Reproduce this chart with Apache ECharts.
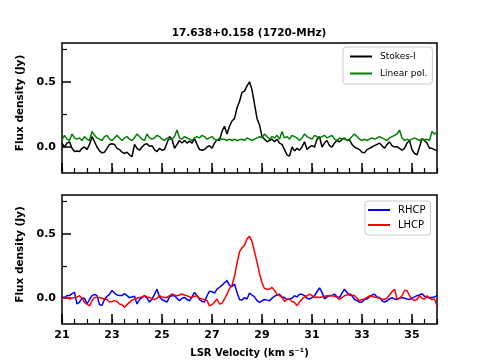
<!DOCTYPE html>
<html><head><meta charset="utf-8">
<script src="https://cdn.jsdelivr.net/npm/echarts@6/dist/echarts.min.js"></script>
<style>html,body{margin:0;padding:0;background:#fff}#c{width:484px;height:363px}</style>
</head><body><div id="c"></div>
<script>
// Channel grid (km/s)
const vStart = 21.0, vStep = 0.1, nChan = 151;
const titleText = '17.638+0.158 (1720-MHz)';
const xTickLabels = [21, 23, 25, 27, 29, 31, 33, 35];
const yTickLabels = [0.0, 0.5];
const yMinorTicks = [0.25, 0.75];

const stokesI = [
 0.028,0.0,0.03,0.04,-0.01,-0.035,-0.03,-0.035,-0.01,0.0,
 -0.02,0.02,0.08,0.04,0.0,-0.03,-0.045,-0.04,-0.01,0.02,
 0.025,0.02,-0.01,-0.02,-0.04,-0.05,-0.04,-0.06,-0.075,0.02,
 -0.01,-0.025,0.0,0.02,0.025,0.005,0.01,-0.02,-0.035,-0.01,
 -0.025,-0.02,0.03,0.08,0.06,-0.01,0.02,0.05,0.03,0.05,
 0.03,0.045,0.03,0.065,0.02,-0.02,-0.025,-0.02,0.0,0.01,
 -0.01,0.03,0.055,0.05,0.12,0.16,0.1,0.16,0.2,0.22,
 0.3,0.35,0.42,0.43,0.47,0.5,0.44,0.33,0.22,0.17,
 0.08,0.06,0.04,0.05,0.06,0.04,0.06,0.03,0.02,-0.02,
 -0.06,-0.07,0.0,-0.03,-0.01,-0.025,0.0,0.04,-0.02,0.0,
 0.01,0.0,0.06,0.08,0.0,0.03,0.05,0.01,0.0,0.03,
 0.05,0.04,0.06,0.065,0.05,0.055,0.02,0.0,-0.01,-0.02,
 -0.04,-0.045,-0.02,-0.01,0.0,0.01,0.02,0.03,0.01,-0.01,
 0.02,0.04,0.01,0.0,0.003,-0.01,-0.025,-0.01,0.03,0.05,
 -0.02,-0.05,-0.06,0.0,0.065,0.05,0.03,-0.01,-0.01,-0.02,
 -0.03];
const linearPol = [
 0.054,0.09,0.06,0.05,0.1,0.07,0.06,0.07,0.05,0.08,
 0.06,0.05,0.12,0.09,0.07,0.06,0.05,0.08,0.09,0.06,
 0.05,0.07,0.09,0.07,0.05,0.07,0.08,0.06,0.05,0.07,
 0.1,0.08,0.06,0.05,0.1,0.07,0.06,0.07,0.09,0.08,
 0.06,0.05,0.07,0.06,0.06,0.08,0.13,0.07,0.06,0.08,
 0.07,0.06,0.05,0.07,0.08,0.07,0.09,0.08,0.06,0.07,
 0.08,0.06,0.05,0.07,0.06,0.06,0.05,0.06,0.05,0.06,
 0.05,0.055,0.06,0.05,0.07,0.06,0.05,0.06,0.07,0.08,
 0.07,0.1,0.08,0.06,0.08,0.07,0.09,0.06,0.12,0.07,
 0.08,0.06,0.09,0.08,0.07,0.05,0.07,0.1,0.08,0.07,
 0.06,0.09,0.08,0.07,0.08,0.09,0.07,0.08,0.09,0.06,
 0.05,0.07,0.06,0.07,0.05,0.06,0.08,0.1,0.08,0.06,
 0.05,0.06,0.05,0.06,0.07,0.06,0.07,0.08,0.07,0.06,
 0.05,0.07,0.08,0.09,0.1,0.13,0.07,0.05,0.06,0.05,
 0.06,0.07,0.06,0.05,0.06,0.055,0.06,0.05,0.12,0.1,
 0.11];
const rhcp = [
 0.01,0.006,0.02,0.02,0.035,0.045,-0.045,-0.03,0.0,0.0,
 -0.045,-0.01,0.02,0.03,0.02,-0.05,-0.055,-0.01,0.015,0.03,
 0.06,0.04,0.025,0.02,0.02,0.035,0.02,0.005,0.01,0.015,
 -0.045,-0.01,0.005,0.02,0.0,-0.03,-0.006,0.03,0.07,0.01,
 -0.01,-0.02,-0.03,0.01,0.02,0.019,0.0,-0.02,0.0,0.006,
 -0.01,-0.02,0.01,0.045,0.02,-0.01,-0.025,-0.03,0.019,0.055,
 0.05,0.04,0.07,0.085,0.1,0.12,0.136,0.1,0.09,0.11,
 0.045,-0.01,-0.015,0.005,-0.006,0.04,0.025,0.01,-0.019,-0.032,
 -0.02,-0.01,-0.015,-0.019,0.0,0.015,0.025,0.03,0.01,0.005,
 -0.01,-0.006,0.0,0.019,0.01,0.03,0.03,0.02,0.0,-0.006,
 0.005,0.019,0.05,0.08,0.045,-0.005,0.01,0.019,0.02,0.032,
 0.01,0.006,0.04,0.07,0.045,0.025,0.019,-0.01,-0.019,-0.032,
 -0.03,-0.01,-0.006,0.01,0.025,0.03,0.01,0.006,-0.02,-0.03,
 -0.02,-0.006,0.005,-0.006,-0.01,0.0,0.006,0.0,-0.006,-0.01,
 0.0,0.01,0.02,0.025,0.035,0.015,0.006,0.005,0.006,0.01,
 0.02];
const lhcp = [
 -0.006,0.006,0.006,-0.006,0.0,0.006,0.01,0.019,0.0,-0.032,
 -0.045,-0.06,-0.02,0.006,0.006,0.006,0.0,-0.006,-0.01,-0.03,
 -0.025,-0.019,-0.025,-0.045,-0.05,-0.07,-0.05,-0.032,-0.015,-0.006,
 0.0,0.006,0.01,0.019,0.01,0.006,-0.006,-0.01,0.0,0.019,
 0.01,0.006,0.006,0.02,0.032,0.025,0.019,0.025,0.032,0.025,
 0.019,0.01,0.006,0.015,0.019,0.0,-0.006,-0.01,-0.019,-0.06,
 -0.05,-0.03,-0.006,-0.045,-0.04,-0.006,0.032,0.075,0.1,0.17,
 0.27,0.36,0.39,0.41,0.46,0.48,0.44,0.36,0.28,0.19,
 0.12,0.075,0.072,0.07,0.084,0.06,0.032,0.02,0.006,-0.025,
 -0.01,-0.006,-0.025,-0.032,-0.058,-0.03,-0.006,0.01,0.019,0.032,
 0.02,0.006,0.01,0.006,0.01,0.015,0.019,0.02,0.019,0.015,
 0.006,-0.01,0.006,0.019,0.025,0.032,0.025,0.019,0.0,-0.019,
 -0.01,-0.006,0.006,0.019,0.015,0.01,0.006,0.0,-0.006,-0.01,
 0.0,0.025,0.05,0.07,-0.006,0.0,0.019,0.06,0.06,0.019,
 -0.006,-0.019,-0.01,0.019,0.0,-0.006,0.019,0.0,-0.01,-0.006,
 -0.058];

const velocity = [];
for (let i = 0; i < nChan; i++) velocity.push(+(vStart + i * vStep).toFixed(1));
const xMinorTicks = [];
for (let v = 21; v <= 36.001; v += 0.5) xMinorTicks.push(+v.toFixed(1));

const pairs = a => a.map((y, i) => [velocity[i], y]);
const FONT = 'DejaVu Sans';
const X0 = 21, X1 = 36, Y0 = -0.2, Y1 = 0.8;

function xAxesFor(gi, withLabels) {
  return [
    {type:'value', gridIndex:gi, min:X0, max:X1, position:'bottom',
     axisLine:{show:false, onZero:false}, splitLine:{show:false},
     axisTick:{show:true, inside:true, length:10, customValues:xTickLabels, lineStyle:{color:'#000', width:1.5}},
     axisLabel:{show:withLabels, customValues:xTickLabels, margin:6, color:'#000',
                fontFamily:FONT, fontWeight:'bold', fontSize:11, formatter: v => String(v)},
     name: withLabels ? 'LSR Velocity (km s\u207B\u00B9)' : '',
     nameLocation:'middle', nameGap:24,
     nameTextStyle:{fontFamily:FONT, fontWeight:'bold', fontSize:10, color:'#000'}},
    {type:'value', gridIndex:gi, min:X0, max:X1, position:'bottom',
     axisLine:{show:false, onZero:false}, splitLine:{show:false},
     axisTick:{show:true, inside:true, length:5, customValues:xMinorTicks, lineStyle:{color:'#000', width:1.2}},
     axisLabel:{show:false}}
  ];
}
function yAxesFor(gi) {
  return [
    {type:'value', gridIndex:gi, min:Y0, max:Y1, position:'left',
     axisLine:{show:false, onZero:false}, splitLine:{show:false},
     axisTick:{show:true, inside:true, length:9, customValues:yTickLabels, lineStyle:{color:'#000', width:1.5}},
     axisLabel:{show:true, customValues:yTickLabels, margin:6, color:'#000',
                fontFamily:FONT, fontWeight:'bold', fontSize:11, formatter: v => v.toFixed(1)},
     name:'Flux density (Jy)', nameLocation:'middle', nameGap:33,
     nameTextStyle:{fontFamily:FONT, fontWeight:'bold', fontSize:10.5, color:'#000', padding:[0,0,0,10]}},
    {type:'value', gridIndex:gi, min:Y0, max:Y1, position:'left',
     axisLine:{show:false, onZero:false}, splitLine:{show:false},
     axisTick:{show:true, inside:true, length:5, customValues:yMinorTicks, lineStyle:{color:'#000', width:1.2}},
     axisLabel:{show:false}}
  ];
}
function lineSeries(name, data, color, xi, yi) {
  return {type:'line', name, data:pairs(data), xAxisIndex:xi, yAxisIndex:yi,
          symbol:'none', showSymbol:false, clip:true,
          lineStyle:{color, width:1.5}, itemStyle:{color}, animation:false, z:2};
}
const legendBase = {
  orient:'vertical', icon:'rect', itemWidth:22, itemHeight:2, borderColor:'#cccccc', borderWidth:1,
  borderRadius:3, backgroundColor:'rgba(255,255,255,0.85)', selectedMode:false
};

const chart = echarts.init(document.getElementById('c'), null, {renderer:'canvas'});
chart.setOption({
  animation:false,
  backgroundColor:'#fff',
  grid:[
    {left:62, top:43, width:375, height:130, show:true, borderColor:'#000', borderWidth:1.5, backgroundColor:'transparent'},
    {left:62, top:195, width:375, height:129, show:true, borderColor:'#000', borderWidth:1.5, backgroundColor:'transparent'}
  ],
  xAxis:[...xAxesFor(0, false), ...xAxesFor(1, true)],
  yAxis:[...yAxesFor(0), ...yAxesFor(1)],
  legend:[
    Object.assign({}, legendBase, {data:['Stokes-I','Linear pol.'], left:343, top:47, itemGap:6,
      padding:[4,5,5,7], textStyle:{fontFamily:FONT, fontSize:9, lineHeight:11, color:'#000', padding:[0,0,0,3]}}),
    Object.assign({}, legendBase, {data:['RHCP','LHCP'], left:365, top:201, itemGap:3,
      padding:[3,5,4,3], textStyle:{fontFamily:FONT, fontSize:10, lineHeight:12, color:'#000', padding:[0,0,0,3]}})
  ],
  graphic:[{type:'text', x:249, y:33, silent:true,
    style:{text:titleText, fontFamily:FONT, fontWeight:'bold', fontSize:10.5, fill:'#000',
           align:'center', verticalAlign:'middle'}}],
  series:[
    lineSeries('Stokes-I', stokesI, '#000000', 0, 0),
    lineSeries('Linear pol.', linearPol, '#008000', 0, 0),
    lineSeries('RHCP', rhcp, '#0000ff', 2, 2),
    lineSeries('LHCP', lhcp, '#ff0000', 2, 2)
  ]
});
</script></body></html>
